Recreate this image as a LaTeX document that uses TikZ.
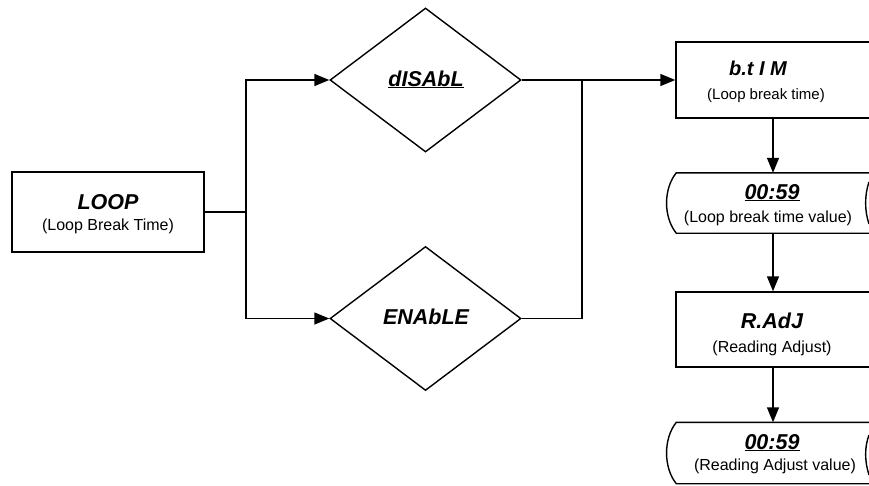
\documentclass[tikz,border=0pt]{standalone}
\usepackage{fontspec}
\setmainfont{Liberation Sans}
\usetikzlibrary{shapes.geometric,arrows.meta,calc}
\begin{document}
\begin{tikzpicture}[x=1pt,y=-1pt,line width=1.4pt,
  flowbox/.style={draw,rectangle,inner sep=0pt},
  slot/.style={rectangle,inner sep=0pt},
  choice/.style={draw,diamond,inner sep=0pt,minimum width=191pt,minimum height=144pt},
  ttl/.style={font=\fontsize{21.5}{24}\selectfont\bfseries\itshape,anchor=base,inner sep=0pt},
  sub/.style={font=\fontsize{16}{18}\selectfont,anchor=base,inner sep=0pt},
  arr/.style={-{Triangle[length=15pt,width=12pt]}}]
\useasboundingbox (0,0) rectangle (869,485);

% left block
\node[flowbox,minimum width=192pt,minimum height=80pt] (loop) at (108,212) {};
\node[ttl] (loopT) at (108,209) {LOOP};
\node[sub] (loopS) at (108,230) {(Loop Break Time)};

% decisions
\node[choice] (dis) at (425.5,80) {};
\node[ttl] (disT) at (426,86) {\underline{dISAbL}};
\node[choice] (ena) at (425.5,318.5) {};
\node[ttl] (enaT) at (426,324) {ENAbLE};

% right column
\node[flowbox,minimum width=204pt,minimum height=76pt] (btim) at (778,80) {};
\node[ttl,font=\fontsize{20}{22}\selectfont\bfseries\itshape] (btimT) at (758,75) {b.t I M};
\node[sub,font=\fontsize{15}{18}\selectfont] (btimS) at (766,99) {(Loop break time)};

\node[slot,minimum width=203pt,minimum height=59pt] (v1) at (778.5,203) {};
\draw (v1.north east) -- (v1.north west)
  .. controls ($(v1.north west)+(-13,16)$) and ($(v1.south west)+(-13,-16)$) .. (v1.south west)
  -- (v1.south east);
\draw ($(v1.center)+(90.5,-21)$) .. controls ($(v1.center)+(86,-8)$) and ($(v1.center)+(86,8)$) .. ($(v1.center)+(90.5,21)$);
\node[ttl] (v1T) at (772,199) {\underline{00:59}};
\node[sub] (v1S) at (768,222) {(Loop break time value)};

\node[flowbox,minimum width=204pt,minimum height=75pt] (radj) at (778,329.5) {};
\node[ttl] (radjT) at (772,328) {R.AdJ};
\node[sub] (radjS) at (772,352) {(Reading Adjust)};

\node[slot,minimum width=203pt,minimum height=60pt] (v2) at (778.5,453) {};
\draw (v2.north east) -- (v2.north west)
  .. controls ($(v2.north west)+(-13,16)$) and ($(v2.south west)+(-13,-16)$) .. (v2.south west)
  -- (v2.south east);
\draw ($(v2.center)+(90.5,-18)$) .. controls ($(v2.center)+(86,-6)$) and ($(v2.center)+(86,8)$) .. ($(v2.center)+(90.5,22)$);
\node[ttl] (v2T) at (772,449) {\underline{00:59}};
\node[sub] (v2S) at (775,470) {(Reading Adjust value)};

% connectors
\coordinate (split) at (246,212);
\coordinate (merge) at (582,80);
\coordinate (down) at (773,0);
\draw (loop.east) -- (split);
\draw[arr] (split) |- (dis.west);
\draw[arr] (split) |- (ena.west);
\draw[arr] (dis.east) -- (btim.west);
\draw (ena.east) -| (merge);
\draw[arr] (btim.south -| down) -- (v1.north -| down);
\draw[arr] (v1.south -| down) -- (radj.north -| down);
\draw[arr] (radj.south -| down) -- (v2.north -| down);
\end{tikzpicture}
\end{document}
